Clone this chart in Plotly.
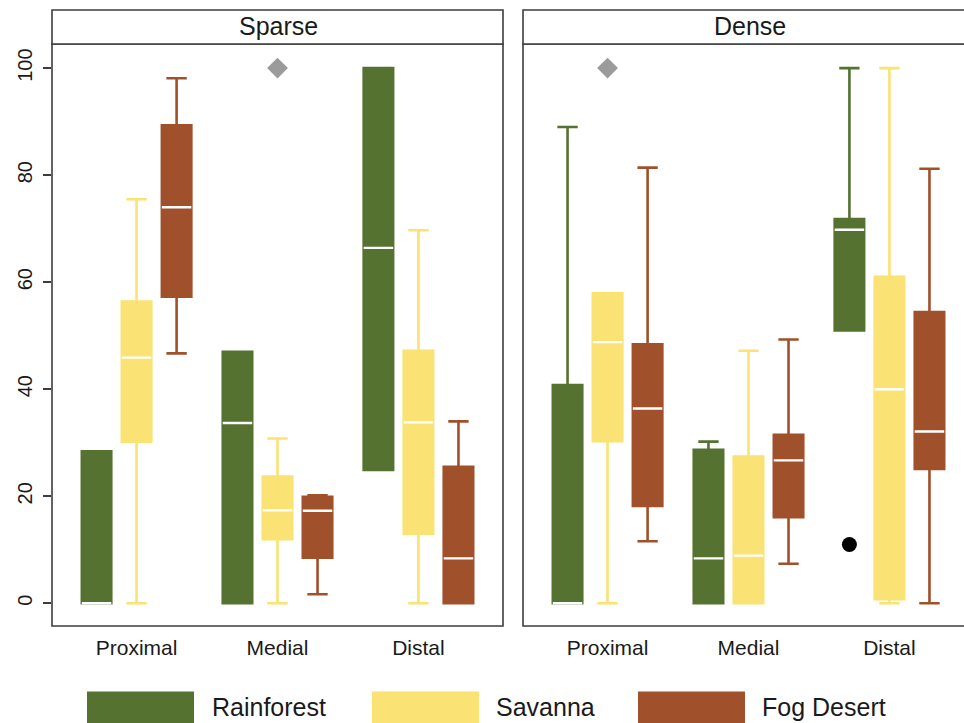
import plotly.graph_objects as go

# ---------------- data ----------------
categories = ["Proximal", "Medial", "Distal"]
series = ["Rainforest", "Savanna", "Fog Desert"]
panels = ["Sparse", "Dense"]
y_ticks = [0, 20, 40, 60, 80, 100]

# Sparse panel (per category: Proximal, Medial, Distal)
sparse_rainforest_q1 = [0, 0, 24.9]
sparse_rainforest_med = [0, 33.7, 66.4]
sparse_rainforest_q3 = [28.4, 47.0, 100]
sparse_rainforest_lo = [0, 0, 24.9]
sparse_rainforest_hi = [28.4, 47.0, 100]

sparse_savanna_q1 = [30.2, 12.0, 13.0]
sparse_savanna_med = [45.9, 17.4, 33.8]
sparse_savanna_q3 = [56.4, 23.7, 47.2]
sparse_savanna_lo = [0, 0, 0]
sparse_savanna_hi = [75.5, 30.8, 69.7]

sparse_fog_q1 = [57.3, 8.5, 0]
sparse_fog_med = [74.0, 17.3, 8.4]
sparse_fog_q3 = [89.3, 19.9, 25.5]
sparse_fog_lo = [46.7, 1.7, 0]
sparse_fog_hi = [98.1, 20.2, 34.0]

# Dense panel
dense_rainforest_q1 = [0, 0, 51.0]
dense_rainforest_med = [0, 8.4, 69.8]
dense_rainforest_q3 = [40.8, 28.7, 71.8]
dense_rainforest_lo = [0, 0, 51.0]
dense_rainforest_hi = [89.0, 30.2, 100]

dense_savanna_q1 = [30.3, 0, 0.75]
dense_savanna_med = [48.8, 8.9, 40.0]
dense_savanna_q3 = [57.9, 27.4, 61.0]
dense_savanna_lo = [0, 0, 0]
dense_savanna_hi = [57.9, 47.2, 100]

dense_fog_q1 = [18.2, 16.1, 25.1]
dense_fog_med = [36.4, 26.7, 32.1]
dense_fog_q3 = [48.4, 31.5, 54.4]
dense_fog_lo = [11.6, 7.4, 0]
dense_fog_hi = [81.4, 49.3, 81.2]

# outliers: (panel, series, category, value)
outlier_panel = ["Sparse", "Dense", "Dense"]
outlier_series = ["Savanna", "Savanna", "Rainforest"]
outlier_category = ["Medial", "Proximal", "Distal"]
outlier_value = [100, 100, 11.0]

# ---------------- style ----------------
colors = {"Rainforest": "#557230", "Savanna": "#FAE274", "Fog Desert": "#A0502A"}
outlier_style = {"Savanna": dict(symbol="diamond", size=16, color="#9B9B9B"),
                 "Rainforest": dict(symbol="circle", size=15, color="#000000")}
offsets = {"Rainforest": -0.284, "Savanna": 0.0, "Fog Desert": 0.284}
BOX_W = 0.209
FONT = "Liberation Sans, Arial, sans-serif"
TXT = "#1a1a1a"
BORDER = "#3c3c3c"

stats = {
    "Sparse": {
        "Rainforest": (sparse_rainforest_q1, sparse_rainforest_med, sparse_rainforest_q3, sparse_rainforest_lo, sparse_rainforest_hi),
        "Savanna": (sparse_savanna_q1, sparse_savanna_med, sparse_savanna_q3, sparse_savanna_lo, sparse_savanna_hi),
        "Fog Desert": (sparse_fog_q1, sparse_fog_med, sparse_fog_q3, sparse_fog_lo, sparse_fog_hi),
    },
    "Dense": {
        "Rainforest": (dense_rainforest_q1, dense_rainforest_med, dense_rainforest_q3, dense_rainforest_lo, dense_rainforest_hi),
        "Savanna": (dense_savanna_q1, dense_savanna_med, dense_savanna_q3, dense_savanna_lo, dense_savanna_hi),
        "Fog Desert": (dense_fog_q1, dense_fog_med, dense_fog_q3, dense_fog_lo, dense_fog_hi),
    },
}
axes = {"Sparse": ("x", "y"), "Dense": ("x2", "y2")}

fig = go.Figure()
for p in panels:
    xa, ya = axes[p]
    for s in series:
        q1, med, q3, lo, hi = stats[p][s]
        xs = [i + 1 + offsets[s] for i in range(len(categories))]
        fig.add_trace(go.Box(
            x=xs, q1=q1, median=med, q3=q3, lowerfence=lo, upperfence=hi,
            width=BOX_W, whiskerwidth=0.69,
            line=dict(color=colors[s], width=2.6), fillcolor=colors[s],
            name=s, showlegend=False, xaxis=xa, yaxis=ya, hoverinfo="skip"))
        # white median line: a zero-height box at the median
        fig.add_trace(go.Box(
            x=xs, q1=med, median=med, q3=med, lowerfence=med, upperfence=med,
            width=BOX_W, whiskerwidth=0,
            line=dict(color="white", width=2.4), fillcolor="white",
            showlegend=False, xaxis=xa, yaxis=ya, hoverinfo="skip"))

for p, s, c, v in zip(outlier_panel, outlier_series, outlier_category, outlier_value):
    xa, ya = axes[p]
    st = outlier_style[s]
    fig.add_trace(go.Scatter(
        x=[categories.index(c) + 1 + offsets[s]], y=[v], mode="markers",
        marker=dict(symbol=st["symbol"], size=st["size"], color=st["color"], line=dict(width=0)),
        showlegend=False, xaxis=xa, yaxis=ya, hoverinfo="skip"))

# ---------------- layout geometry ----------------
W, H = 964, 723
ML, MR, MT, MB = 52, 0, 44, 97
PW = W - ML - MR
PH = H - MT - MB
left_dom = [0, (503 - ML) / PW]
right_dom = [(523 - ML) / PW, 1]
px_per_unit = (503 - 52) / 3.2
right_range = [0.4, 0.4 + (W - 523) / px_per_unit]

def px_x(px):
    return (px - ML) / PW

def px_y(py):
    return (H - MB - py) / PH

strip_top = px_y(10)

shapes = []
# Left panel border & strip
shapes.append(dict(type="rect", xref="paper", yref="paper", x0=0, x1=left_dom[1], y0=0, y1=1,
                   line=dict(color=BORDER, width=1.6)))
shapes.append(dict(type="rect", xref="paper", yref="paper", x0=0, x1=left_dom[1], y0=1, y1=strip_top,
                   line=dict(color=BORDER, width=1.6), fillcolor="white"))
# Right panel border & strip (extends past the right edge)
shapes.append(dict(type="rect", xref="paper", yref="paper", x0=right_dom[0], x1=1.03, y0=0, y1=1,
                   line=dict(color=BORDER, width=1.6)))
shapes.append(dict(type="rect", xref="paper", yref="paper", x0=right_dom[0], x1=1.03, y0=1, y1=strip_top,
                   line=dict(color=BORDER, width=1.6), fillcolor="white"))

annotations = [
    dict(text="Sparse", xref="paper", yref="paper", x=px_x(278), y=px_y(26), showarrow=False,
         font=dict(size=25, family=FONT, color=TXT), xanchor="center", yanchor="middle"),
    dict(text="Dense", xref="paper", yref="paper", x=px_x(750), y=px_y(26), showarrow=False,
         font=dict(size=25, family=FONT, color=TXT), xanchor="center", yanchor="middle"),
]

# Legend (manual, large swatches)
legend_swatch_x = [87, 372, 638]
legend_text_x = [210, 494, 760]
for s, sx, tx in zip(series, legend_swatch_x, legend_text_x):
    shapes.append(dict(type="rect", xref="paper", yref="paper", x0=px_x(sx), x1=px_x(sx + 107),
                       y0=px_y(740), y1=px_y(691.5), line=dict(width=0), fillcolor=colors[s]))
    annotations.append(dict(text=s, xref="paper", yref="paper", x=px_x(tx), y=px_y(707),
                            showarrow=False, xanchor="left", yanchor="middle",
                            font=dict(size=25, family=FONT, color=TXT)))

fig.update_layout(
    width=W, height=H,
    margin=dict(l=ML, r=MR, t=MT, b=MB),
    paper_bgcolor="white", plot_bgcolor="white",
    boxmode="overlay", showlegend=False,
    font=dict(family=FONT, color=TXT),
    shapes=shapes, annotations=annotations,
    xaxis=dict(domain=left_dom, range=[0.4, 3.6], tickvals=[1, 2, 3], ticktext=categories,
               showgrid=False, zeroline=False, showline=False, ticks="", ticklabelstandoff=7,
               tickfont=dict(size=21, family=FONT, color=TXT), anchor="y"),
    xaxis2=dict(domain=right_dom, range=right_range, tickvals=[1, 2, 3], ticktext=categories,
                showgrid=False, zeroline=False, showline=False, ticks="", ticklabelstandoff=7,
                tickfont=dict(size=21, family=FONT, color=TXT), anchor="y2"),
    yaxis=dict(domain=[0, 1], range=[-4.24, 104.5], tickvals=y_ticks, ticks="outside", ticklen=8,
               tickcolor=BORDER, tickwidth=1.5, tickangle=-90, showgrid=False, zeroline=False,
               ticklabelstandoff=3,
               showline=False, tickfont=dict(size=20, family=FONT, color=TXT), anchor="x"),
    yaxis2=dict(domain=[0, 1], range=[-4.24, 104.5], matches="y", showticklabels=False, ticks="",
                showgrid=False, zeroline=False, showline=False, anchor="x2"),
)

fig.write_html("out.html", config={"displayModeBar": False},
               post_script="document.body.style.margin='0';document.body.style.overflow='hidden';")
